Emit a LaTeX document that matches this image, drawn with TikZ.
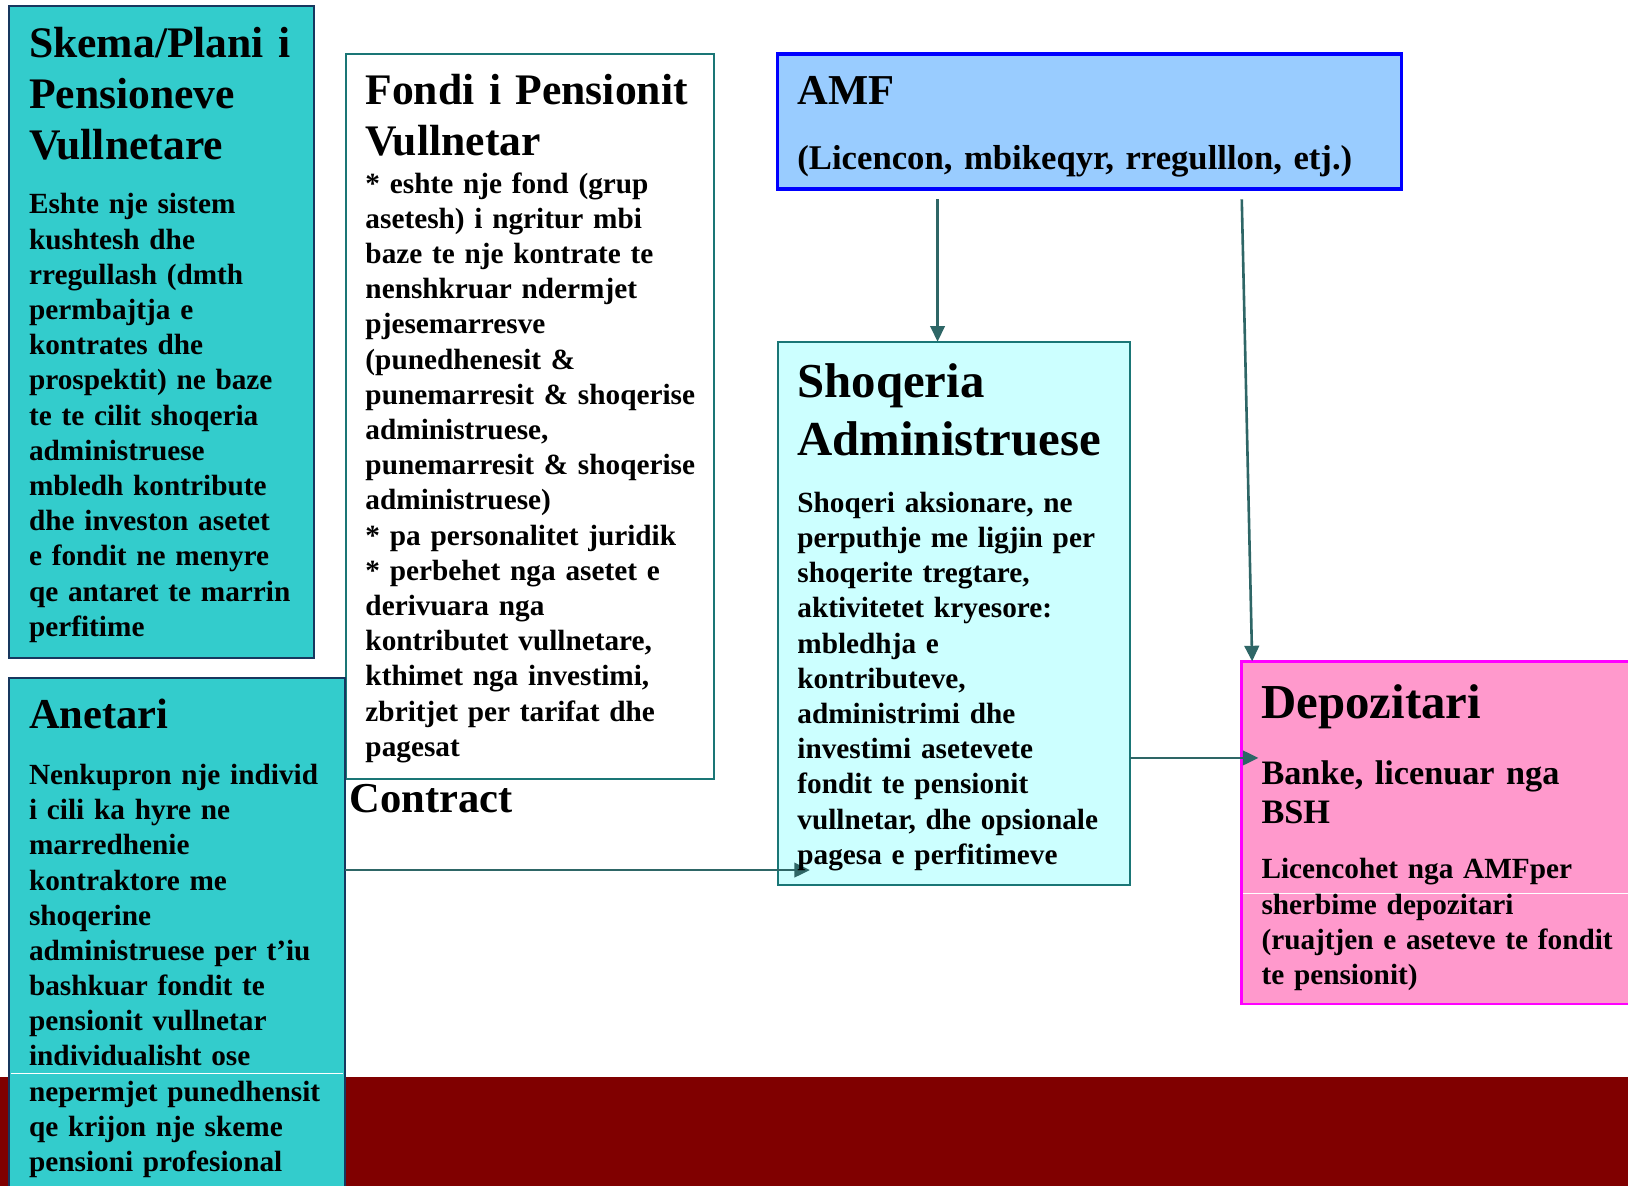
\documentclass[tikz,border=0pt]{standalone}
\usepackage{fontspec}
\setmainfont{Liberation Serif}
\usetikzlibrary{arrows.meta,calc}
\definecolor{turq}{HTML}{33CCCC}
\definecolor{navyb}{RGB}{23,55,94}
\definecolor{tealb}{RGB}{26,118,118}
\definecolor{amffill}{HTML}{99CCFF}
\definecolor{amfb}{RGB}{0,0,255}
\definecolor{shoqfill}{HTML}{CCFFFF}
\definecolor{depfill}{HTML}{FF99CC}
\definecolor{depb}{RGB}{255,0,255}
\definecolor{bandc}{HTML}{800000}
\definecolor{arrc}{RGB}{46,102,102}
\tikzset{
  boxn/.style={anchor=north west, inner sep=0pt, outer sep=0pt, line width=2pt},
  txt/.style={anchor=base west, inner sep=0pt, outer sep=0pt, text width=760pt, align=left},
  hdA/.style={txt, font=\bfseries\fontsize{42}{49.2}\selectfont},
  hdB/.style={txt, font=\bfseries\fontsize{47}{56}\selectfont},
  subA/.style={txt, font=\bfseries\fontsize{33}{37}\selectfont},
  bd/.style={txt, font=\bfseries\fontsize{28.2}{33.9}\selectfont},
  arr/.style={draw=arrc, line width=2.5pt, -{Triangle[length=15pt,width=14pt]}}
}
\begin{document}
\begin{tikzpicture}[x=1pt,y=-1pt]
\path[use as bounding box, clip] (0,0) rectangle (1568,1142);
\fill[white] (0,0) rectangle (1568,1142);
% band
\fill[bandc] (0,1037) rectangle (1568,1150);
% boxes
\node[boxn, draw=navyb, fill=turq, minimum width=293pt, minimum height=628pt] (skema) at (9,6) {};
\node[boxn, draw=tealb, fill=white, minimum width=355pt, minimum height=698pt] (fondi) at (333,52) {};
\node[boxn, draw=amfb, fill=amffill, line width=3pt, minimum width=601pt, minimum height=130pt] (amf) at (749,52) {};
\node[boxn, draw=tealb, fill=shoqfill, minimum width=339pt, minimum height=523pt] (shoq) at (749,329) {};
\node[boxn, draw=depb, fill=depfill, line width=2.5pt, minimum width=420pt, minimum height=330pt] (dep) at (1196,637) {};
\node[boxn, draw=navyb, fill=turq, minimum width=323pt, minimum height=520pt] (anet) at (9,653) {};
% thin white artefact lines
\draw[white, line width=1pt] ($(anet.north west)+(1.5,381)$) -- ($(anet.north east)+(-1.5,381)$);
\draw[white, line width=1pt] ($(dep.north west)+(1.5,224)$) -- ($(dep.north west)+(380,224)$);
% connectors
\draw[arr] ($(amf.south west)+(154,10)$) -- ($(shoq.north west)+(154,0)$);
\draw[arr] ($(amf.south west)+(447,10)$) -- ($(dep.north west)+(10,0)$);
\draw[arr] ($(shoq.north east)+(0,401)$) -- ($(dep.north west)+(16,93)$);
\draw[arr] ($(anet.north east)+(0,185)$) -- ($(shoq.north west)+(31,509)$);
% texts
\node[hdA] (skemaT) at (28,55) {Skema/Plani i\\Pensioneve\\Vullnetare};
\node[bd] (skemaB) at (28,206) {Eshte nje sistem\\kushtesh dhe\\rregullash (dmth\\permbajtja e\\kontrates dhe\\prospektit) ne baze\\te te cilit shoqeria\\administruese\\mbledh kontribute\\dhe investon asetet\\e fondit ne menyre\\qe antaret te marrin\\perfitime};
\node[hdA] (fondiT) at (352,101) {Fondi i Pensionit\\Vullnetar};
\node[bd] (fondiB) at (352,186) {* eshte nje fond (grup\\asetesh) i ngritur mbi\\baze te nje kontrate te\\nenshkruar ndermjet\\pjesemarresve\\(punedhenesit \&\\punemarresit \& shoqerise\\administruese,\\punemarresit \& shoqerise\\administruese)\\{}* pa personalitet juridik\\{}* perbehet nga asetet e\\derivuara nga\\kontributet vullnetare,\\kthimet nga investimi,\\zbritjet per tarifat dhe\\pagesat};
\node[txt, font=\bfseries\fontsize{41}{48}\selectfont] (amfT) at (768,101) {AMF};
\node[txt, font=\bfseries\fontsize{33.4}{38}\selectfont] (amfB) at (768,163) {(Licencon, mbikeqyr, rregulllon, etj.)};
\node[hdB] (shoqT) at (768,383) {Shoqeria\\Administruese};
\node[bd] (shoqB) at (768,493.5) {Shoqeri aksionare, ne\\perputhje me ligjin per\\shoqerite tregtare,\\aktivitetet kryesore:\\mbledhja e\\kontributeve,\\administrimi dhe\\investimi asetevete\\fondit te pensionit\\vullnetar, dhe opsionale\\pagesa e perfitimeve};
\node[hdB] (depT) at (1215,692) {Depozitari};
\node[subA] (depS) at (1215,756) {Banke, licenuar nga\\BSH};
\node[bd] (depB) at (1215,846.5) {Licencohet nga AMFper\\sherbime depozitari\\(ruajtjen e aseteve te fondit\\te pensionit)};
\node[txt, font=\bfseries\fontsize{41}{48}\selectfont] (anetT) at (28,702) {Anetari};
\node[bd] (anetB) at (28,755.5) {Nenkupron nje individ\\i cili ka hyre ne\\marredhenie\\kontraktore me\\shoqerine\\administruese per t’iu\\bashkuar fondit te\\pensionit vullnetar\\individualisht ose\\nepermjet punedhensit\\qe krijon nje skeme\\pensioni profesional};
\node[txt, font=\bfseries\fontsize{41}{48}\selectfont] (contract) at (337,783) {Contract};
\end{tikzpicture}
\end{document}
